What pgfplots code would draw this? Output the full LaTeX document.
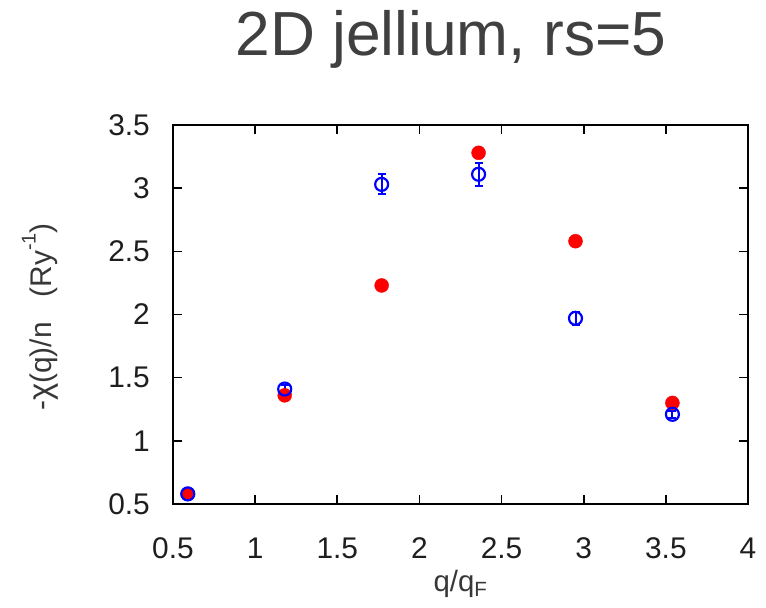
\documentclass[border=0pt]{standalone}
\usepackage{fontspec}
\setmainfont{Liberation Sans}
\usepackage{pgfplots}
\usepackage{pgfplotstable}
\pgfplotsset{compat=1.18}
\definecolor{titlegray}{RGB}{64,64,64}
\definecolor{labelgray}{RGB}{55,55,55}
\definecolor{tickgray}{RGB}{30,30,30}
\pgfplotstableread{
q y
0.59 0.58
1.18 1.36
1.77 2.23
2.36 3.28
2.95 2.58
3.54 1.30
}\redtab
\pgfplotstableread{
q y e
0.59 0.58 0.01
1.18 1.41 0.03
1.77 3.03 0.08
2.36 3.11 0.09
2.95 1.97 0.05
3.54 1.21 0.03
}\bluetab
\begin{document}
\begin{tikzpicture}
\path[use as bounding box] (-173bp,-104bp) rectangle (593bp,504bp);
\begin{axis}[
  at={(0,0)}, anchor=south west,
  scale only axis, width=575bp, height=379bp,
  xmin=0.5, xmax=4, ymin=0.5, ymax=3.5,
  xtick={0.5,1,1.5,2,2.5,3,3.5,4},
  ytick={0.5,1,1.5,2,2.5,3,3.5},
  axis line style={line width=2.6bp, black},
  tick style={line width=1.6bp, black},
  tick align=inside,
  major tick length=9bp,
  /pgf/number format/assume math mode=true,
  tick label style={font=\fontsize{30}{36}\selectfont, text=tickgray, inner sep=0pt},
  xticklabel style={anchor=base, yshift=-54bp},
  yticklabel style={anchor=east, xshift=-23bp},
  clip=false,
]
\addplot[only marks, mark=*, mark size=7bp, color=red, mark options={fill=red, draw=red}]
  table[x=q, y=y] {\redtab};
\addplot[only marks, mark=o, mark size=6.5bp, color=blue, line width=2.2bp,
  error bars/.cd, y dir=both, y explicit,
  error bar style={line width=2bp, blue},
  error mark options={rotate=90, mark size=4bp, line width=2bp, blue}]
  table[x=q, y=y, y error=e] {\bluetab};
\end{axis}
\node[anchor=base, text=titlegray, font=\fontsize{62.5}{72}\selectfont, inner sep=0pt] at (278bp,448bp) {2D jellium, rs=5};
\node[anchor=base, text=labelgray, font=\fontsize{29.5}{34}\selectfont, inner sep=0pt] at (287.5bp,-87bp) {q/q\textsubscript{F}};
\node[anchor=base, rotate=90, text=labelgray, font=\fontsize{30}{36}\selectfont, inner sep=0pt] at (-121bp,187bp) {-{\fontsize{33}{36}\selectfont χ}(q)/n\ \ \ (Ry\raisebox{0.55em}{\fontsize{20}{24}\selectfont -1})};
\end{tikzpicture}
\end{document}
